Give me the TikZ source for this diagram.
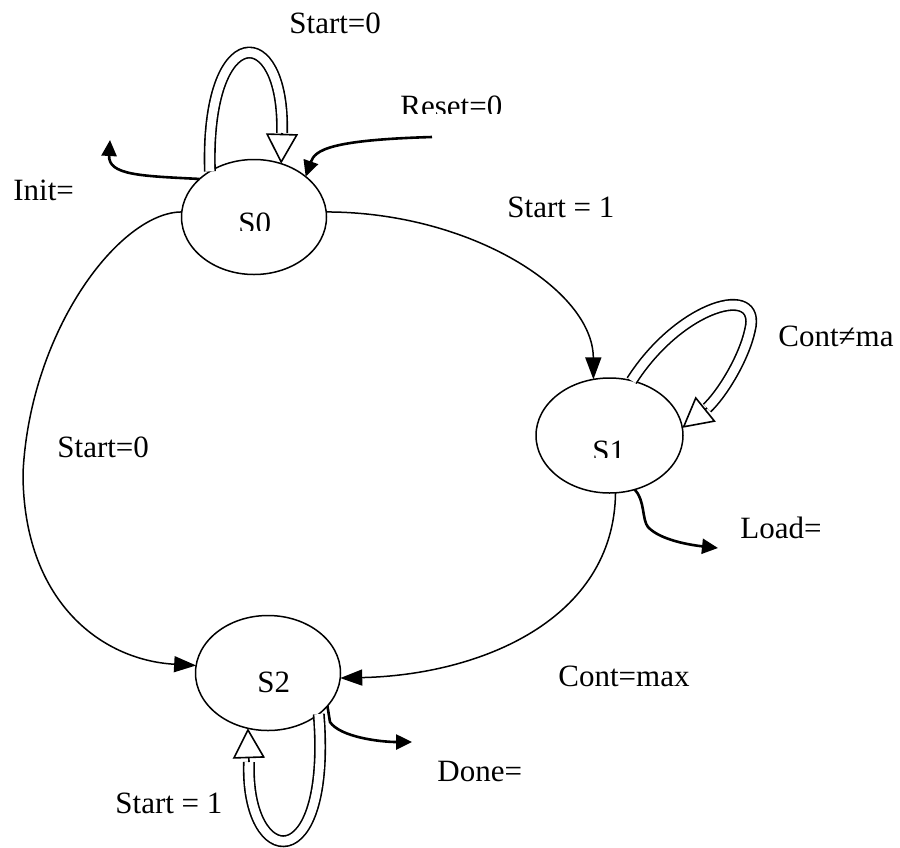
\documentclass[tikz,border=0pt]{standalone}
\usepackage{fontspec}
\setmainfont{Liberation Serif}
\usetikzlibrary{arrows.meta,shapes.geometric}

\begin{document}
\begin{tikzpicture}[x=0.5pt,y=-0.5pt,
  state/.style={draw,ellipse,line width=0.75pt,minimum height=57.5pt,inner sep=0pt,outer sep=0pt},
  lbl/.style={font=\fontsize{15.5pt}{18pt}\selectfont,inner sep=0pt,anchor=base west},
  trans/.style={line width=0.75pt,-{Triangle[length=11pt,width=8pt]}},
  outarrow/.style={line width=1.3pt,-{Triangle[length=8pt,width=7.5pt]}},
  tube/.style={double,line width=0.8pt,double distance=4.4pt},
  hollowtip/.style={line width=0.8pt,-{Triangle[length=15pt,width=16pt,fill=white]}}
]
\useasboundingbox (0,0) rectangle (900,847);

% states
\node[state,minimum width=72.5pt] (S0) at (254,217) {};
\node[state,minimum width=73.5pt] (S1) at (609.5,435.5) {};
\node[state,minimum width=72.5pt] (S2) at (268,673) {};

% state names (the first two are cut off at the bottom of their text boxes)
\begin{scope}
  \clip (200,180) rectangle (320,230);
  \node[lbl] (n0) at (238,233.5) {S0};
\end{scope}
\begin{scope}
  \clip (560,400) rectangle (660,457);
  \node[lbl] (n1) at (592,461) {S1};
\end{scope}
\node[lbl] (n2) at (257,692) {S2};

% transitions between states
\draw[trans] (S0.4) .. controls (470,212) and (593,290) .. (S1.106);
\draw[trans] (S0.176) .. controls (120,212) and (30,330) .. (23,473)
                      .. controls (23,600) and (100,660) .. (S2.174);
\draw[trans] (S1.-84) .. controls (614,620) and (480,675) .. (S2.-4);

% self loops
\coordinate (b0) at (282,133);
\draw[tube] (S0.134) .. controls (205,20) and (285,20) .. (b0);
\draw[hollowtip] (b0) -- (S0.63);

\coordinate (b1) at (707,408);
\draw[tube] (S1.68) .. controls (680,305) and (762,282) .. (750,330)
                    .. controls (744,358) and (722,394) .. (b1);
\draw[hollowtip] (b1) -- (S1.6);

\coordinate (b2) at (249,762);
\draw[tube] (S2.-39) .. controls (332,880) and (245,870) .. (b2);
\draw[hollowtip] (b2) -- (S2.-110);

% reset and outputs
\coordinate (rst) at (432,137);
\draw[outarrow] (rst) .. controls (330,140) and (315,150) .. (S0.38);

\coordinate (init) at (110,140);
\draw[outarrow] (S0.145) .. controls (140,176) and (108,175) .. (init);

\coordinate (load) at (718,548);
\draw[outarrow] (S1.-65) .. controls (645,500) and (642,520) .. (648,527)
                         .. controls (660,540) and (690,545) .. (load);

\coordinate (done) at (412,742);
\draw[outarrow] (S2.-29) -- (330,722) .. controls (340,737) and (380,742) .. (done);

% labels
\node[lbl] (l1) at (289,33.5) {Start=0};
\begin{scope}
  \clip (390,80) rectangle (500,113);
  \node[lbl] (l2) at (400,116) {Reset=0};
\end{scope}
\node[lbl] (l3) at (13,200) {Init=};
\node[lbl] (l4) at (507,217) {Start = 1};
\node[lbl] (l5) at (778,346) {Cont≠ma};
\node[lbl] (l6) at (57,457) {Start=0};
\node[lbl] (l7) at (740,538) {Load=};
\node[lbl] (l8) at (558,686) {Cont=max};
\node[lbl] (l9) at (437,781) {Done=};
\node[lbl] (l10) at (115,813) {Start = 1};
\end{tikzpicture}
\end{document}
